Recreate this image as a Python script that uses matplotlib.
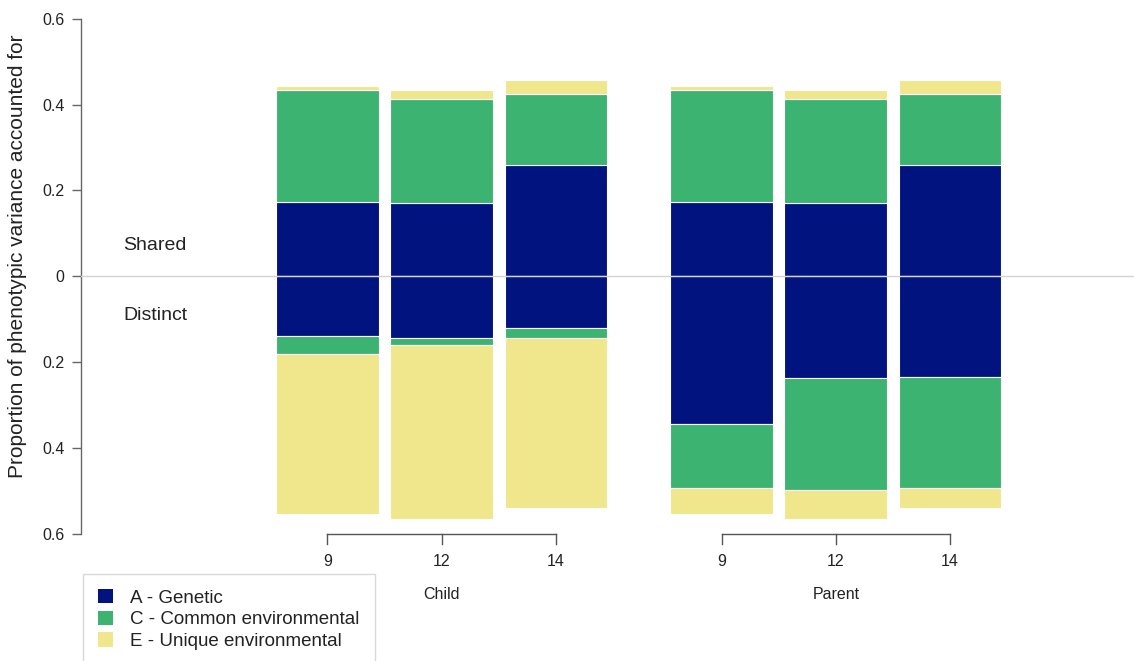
import matplotlib
matplotlib.use("Agg")
from matplotlib import pyplot as plt
from matplotlib.patches import Patch
import numpy as np

plt.rcParams['font.family'] = ['Liberation Sans', 'DejaVu Sans']

ages = ["9", "12", "14"]
groups = ["Child", "Parent"]
components = ["A - Genetic", "C - Common environmental", "E - Unique environmental"]
colors = ['#00137f', '#3cb371', '#f0e68c']

# shared part (above zero), same for child and parent
shared_A = [0.174, 0.171, 0.260]
shared_C = [0.260, 0.242, 0.165]
shared_E = [0.010, 0.020, 0.032]

# distinct part (below zero), magnitudes
child_A = [0.140, 0.144, 0.121]
child_C = [0.040, 0.015, 0.022]
child_E = [0.373, 0.406, 0.397]
parent_A = [0.343, 0.237, 0.235]
parent_C = [0.149, 0.260, 0.258]
parent_E = [0.062, 0.068, 0.047]

fig = plt.figure(figsize=(11.34, 6.61), dpi=100)
ax = fig.add_axes([80.7 / 1134, 127 / 661, 1 - 80.7 / 1134, (661 - 18.7 - 127) / 661])

width = 0.9
group_x = [np.arange(3), np.arange(3) + 3.45]
distinct = [(child_A, child_C, child_E), (parent_A, parent_C, parent_E)]

for gx, (dA, dC, dE) in zip(group_x, distinct):
    bottom = np.zeros(3)
    for vals, col in zip((shared_A, shared_C, shared_E), colors):
        ax.bar(gx, vals, width, bottom=bottom, color=col, edgecolor='white', linewidth=0.8)
        bottom = bottom + np.array(vals)
    bottom = np.zeros(3)
    for vals, col in zip((dA, dC, dE), colors):
        ax.bar(gx, -np.array(vals), width, bottom=bottom, color=col, edgecolor='white', linewidth=0.8)
        bottom = bottom - np.array(vals)

ax.axhline(0, color='#d3d3d3', lw=1, zorder=5)

ax.set_xlim(-2.16, 7.06)
ax.set_ylim(-0.6, 0.6)
yt = np.round(np.arange(-0.6, 0.61, 0.2), 1)
ax.set_yticks(yt)
ax.set_yticklabels(["0" if v == 0 else "%.1f" % abs(v) for v in yt], fontsize=11.5, color='#222222')
ax.tick_params(axis='y', length=6.5, width=1, color='#666666', pad=5)
ax.set_xticks([])
for s in ['top', 'right', 'bottom']:
    ax.spines[s].set_visible(False)
ax.spines['left'].set_color('#666666')
ax.spines['left'].set_linewidth(1)

# group axes under the bars
tick_len = 10 / 429
for gx, name in zip(group_x, groups):
    ax.plot([gx[0], gx[-1]], [-0.6, -0.6], color='#555555', lw=1, clip_on=False)
    for x, lab in zip(gx, ages):
        ax.plot([x, x], [-0.6, -0.6 - tick_len], color='#555555', lw=1, clip_on=False)
        ax.text(x, -0.663, lab, ha='center', va='center', fontsize=11.5, color='#222222')
    ax.text(gx[1], -0.740, name, ha='center', va='center', fontsize=11.5, color='#222222')

ax.text(-1.79, 0.073, "Shared", ha='left', va='center', fontsize=14, color='#222222')
ax.text(-1.79, -0.092, "Distinct", ha='left', va='center', fontsize=14, color='#222222')

fig.text(18 / 1134, (661 - 256) / 661, "Proportion of phenotypic variance accounted for",
         rotation=90, ha='center', va='center', fontsize=15, color='#222222')

handles = [Patch(facecolor=c, edgecolor='none') for c in colors]
leg = fig.legend(handles, components, loc='upper left',
                 bbox_to_anchor=(83 / 1134, (661 - 574) / 661),
                 bbox_transform=fig.transFigure, borderaxespad=0,
                 fontsize=13.5, frameon=True, fancybox=False,
                 handlelength=0.78, handleheight=0.78, handletextpad=0.95,
                 labelspacing=0.22, borderpad=0.8)
leg.get_frame().set_edgecolor('#d0d0d0')
leg.get_frame().set_linewidth(1)
for t in leg.get_texts():
    t.set_color('#222222')

fig.savefig("out.png", dpi=100)
